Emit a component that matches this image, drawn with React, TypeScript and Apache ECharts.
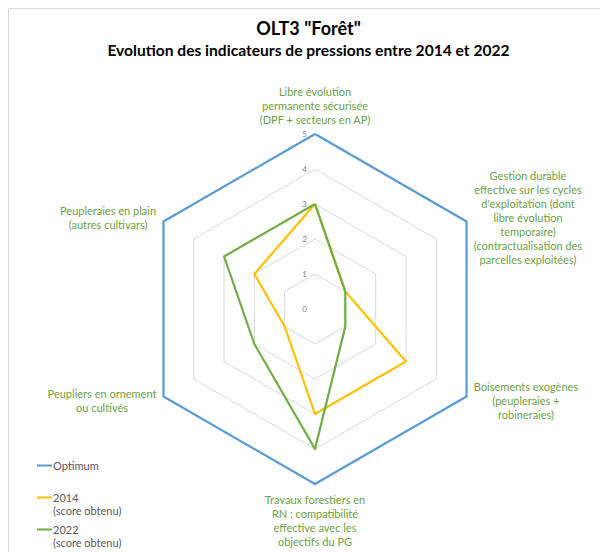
import React, { useEffect, useRef } from "react";
import * as echarts from "echarts";

// Indicators in ECharts order (counter-clockwise from the top)
const categories = [
  "Libre évolution\npermanente sécurisée\n(DPF + secteurs en AP)",
  "Peupleraies en plain\n(autres cultivars)",
  "Peupliers en ornement\nou cultivés",
  "Travaux forestiers en\nRN : compatibilité\neffective avec les\nobjectifs du PG",
  "Boisements exogènes\n(peupleraies +\nrobineraies)",
  "Gestion durable\neffective sur les cycles\nd'exploitation (dont\nlibre évolution\ntemporaire)\n(contractualisation des\nparcelles exploitées)",
];
const optimum = [5, 5, 5, 5, 5, 5];
const score2014 = [3, 2, 1, 3, 3, 1];
const score2022 = [3, 3, 2, 4, 1, 1];
const seriesNames = ["Optimum", "2014", "2022"];
const maxValue = 5;

const FONT = "Lato";
const NAME_SIZE = 11;

function measure(text: string, size: number): number {
  const c = document.createElement("canvas").getContext("2d");
  if (!c) return text.length * size * 0.5;
  c.font = `${size}px ${FONT}`;
  return c.measureText(text).width;
}

export default function App() {
  const ref = useRef<HTMLDivElement>(null);
  useEffect(() => {
    if (!ref.current) return;
    const chart = echarts.init(ref.current, undefined, { renderer: "svg" });
    const rich: Record<string, any> = {};
    categories.forEach((cat, i) => {
      rich["c" + i] = {
        width: Math.ceil(Math.max(...cat.split("\n").map((l) => measure(l, NAME_SIZE)))),
        align: "center",
        fontFamily: FONT,
        fontSize: NAME_SIZE,
        lineHeight: 14,
        color: "#6a9f45",
      };
    });
    chart.setOption({
      animation: false,
      textStyle: { fontFamily: FONT },
      title: [
        {
          text: 'OLT3 "Forêt"',
          left: "center",
          top: 5,
          textStyle: { fontFamily: FONT, fontSize: 18, fontWeight: "bold", color: "#000" },
        },
        {
          text: "Evolution des indicateurs de pressions entre 2014 et 2022",
          left: "center",
          top: 28,
          textStyle: { fontFamily: FONT, fontSize: 15.6, fontWeight: "bold", color: "#000" },
        },
      ],
      legend: {
        orient: "vertical",
        left: 23,
        top: 432,
        height: 200,
        icon: "rect",
        itemWidth: 15,
        itemHeight: 2,
        itemGap: -7,
        data: seriesNames,
        formatter: (name: string) =>
          name === "Optimum" ? "\n" + name + "\n" : "\n" + name + "\n(score obtenu)",
        textStyle: {
          fontFamily: FONT,
          fontSize: 11,
          color: "#595959",
          lineHeight: 13,
          padding: [0, 0, 0, -4],
        },
      },
      radar: {
        center: [306, 300],
        radius: 175,
        startAngle: 90,
        splitNumber: 5,
        shape: "polygon",
        nameGap: 8,
        axisName: {
          color: "#6a9f45",
          fontFamily: FONT,
          fontSize: NAME_SIZE,
          lineHeight: 14,
          rich,
          formatter: (name: string) => {
            const idx = categories.indexOf(name);
            return name
              .split("\n")
              .map((l) => `{c${idx}|${l}}`)
              .join("\n");
          },
        },
        indicator: categories.map((name, i) => ({
          name,
          min: 0,
          max: maxValue,
          ...(i === 0
            ? {
                axisLabel: {
                  show: true,
                  fontSize: 8,
                  color: "#7f7f7f",
                  margin: 8,
                  fontFamily: FONT,
                },
              }
            : {}),
        })),
        axisLine: { show: false },
        axisTick: { show: false },
        axisLabel: { show: false },
        splitLine: { lineStyle: { color: "#d9d9d9", width: 1 } },
        splitArea: { show: false },
      },
      series: [
        {
          type: "radar",
          symbol: "none",
          data: [
            {
              name: seriesNames[0],
              value: optimum,
              lineStyle: { color: "#5b9bd5", width: 2.25 },
              itemStyle: { color: "#5b9bd5" },
            },
            {
              name: seriesNames[1],
              value: score2014,
              lineStyle: { color: "#ffc000", width: 2.25 },
              itemStyle: { color: "#ffc000" },
            },
            {
              name: seriesNames[2],
              value: score2022,
              lineStyle: { color: "#70ad47", width: 2.25 },
              itemStyle: { color: "#70ad47" },
            },
          ],
        },
      ],
    });
    return () => chart.dispose();
  }, []);
  return (
    <div
      style={{
        width: 600,
        height: 544,
        borderLeft: "1px solid #d9d9d9",
        borderTop: "1px solid #d9d9d9",
        boxSizing: "border-box",
      }}
    >
      <div ref={ref} style={{ width: 599, height: 543 }} />
    </div>
  );
}
